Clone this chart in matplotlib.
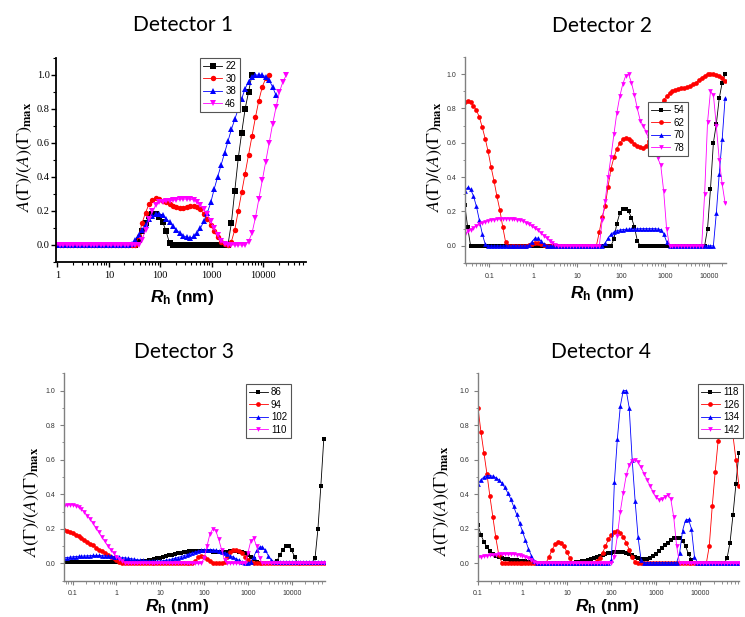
import numpy as np
import matplotlib
matplotlib.use('Agg')
import matplotlib.pyplot as plt
from matplotlib.ticker import LogLocator, FuncFormatter, MultipleLocator, NullFormatter

# figure size in pixels (dpi 100)
W, H = 745, 617
STEP = 1 / 15  # spacing of the Rh grid, in decades

# ---------------- data ----------------
# Detector 1, grid starts at log10(Rh) = -0.02
LAB1 = ['22', '30', '38', '46']
LOG0_1 = -0.02
D1_22 = [0.0] * 24 + [0.03, 0.08, 0.13, 0.17, 0.185, 0.18, 0.165, 0.135, 0.08, 0.01] \
    + [0.0] * 17 + [0.13, 0.32, 0.51, 0.66, 0.80, 0.90, 1.0]
D1_30 = [0.0] * 24 + [0.05, 0.13, 0.19, 0.24, 0.265, 0.275, 0.27, 0.26, 0.25, 0.24,
                      0.23, 0.225, 0.22, 0.22, 0.225, 0.228, 0.23, 0.225, 0.21, 0.18,
                      0.155, 0.12, 0.08, 0.045, 0.02, 0.005, 0.0, 0.02, 0.09, 0.2,
                      0.31, 0.42, 0.53, 0.64, 0.75, 0.85, 0.93, 0.98, 1.0]
D1_38 = [0.0] * 22 + [0.005, 0.03, 0.06, 0.09, 0.12, 0.15, 0.17, 0.18, 0.185, 0.175,
                      0.155, 0.135, 0.11, 0.09, 0.07, 0.055, 0.045, 0.04, 0.05, 0.07,
                      0.10, 0.14, 0.19, 0.25, 0.33, 0.40, 0.47, 0.54, 0.61, 0.68,
                      0.74, 0.80, 0.86, 0.92, 0.96, 0.99, 1.0, 1.0, 1.0, 0.99,
                      0.97, 0.93, 0.88]
D1_46 = [0.0] * 25 + [0.03, 0.09, 0.15, 0.20, 0.235, 0.25, 0.255, 0.26, 0.26, 0.265,
                      0.265, 0.27, 0.27, 0.27, 0.27, 0.265, 0.255, 0.235, 0.21, 0.18,
                      0.14, 0.10, 0.06, 0.025, 0.005, 0.0, 0.0, 0.0, 0.0, 0.0,
                      0.0, 0.02, 0.07, 0.16, 0.27, 0.38, 0.49, 0.60, 0.71, 0.81,
                      0.90, 0.96, 1.0]

# Detector 2, grid starts at log10(Rh) = -1.56
LAB2 = ['54', '62', '70', '78']
LOG0_2 = -1.56
D2_54 = [0.24, 0.11] + [0.0] * 49 + [0.04, 0.13, 0.19, 0.215, 0.215, 0.2, 0.165, 0.11, 0.03] \
    + [0.0] * 23 + [0.1, 0.33, 0.6, 0.71, 0.86, 0.95, 1.0]
D2_62 = [0.84, 0.845, 0.835, 0.815, 0.79, 0.75, 0.69, 0.625, 0.55, 0.46,
         0.38, 0.29, 0.21, 0.11, 0.02] + [0.0] * 7 \
    + [0.005, 0.01, 0.015, 0.015, 0.01, 0.005] + [0.0] * 18 \
    + [0.08, 0.17, 0.23, 0.345, 0.45, 0.515, 0.565, 0.60, 0.62, 0.63,
       0.625, 0.61, 0.595, 0.58, 0.575, 0.57, 0.58, 0.61, 0.66, 0.72,
       0.78, 0.82, 0.85, 0.87, 0.89, 0.90, 0.91, 0.915, 0.92, 0.92,
       0.925, 0.93, 0.94, 0.95, 0.965, 0.98, 0.99, 1.0, 1.0, 1.0,
       0.995, 0.99, 0.98, 0.96]
D2_70 = [0.32, 0.34, 0.33, 0.29, 0.23, 0.15, 0.07, 0.01] + [0.0] * 14 \
    + [0.005, 0.025, 0.045, 0.045, 0.03, 0.01] + [0.0] * 20 \
    + [0.015, 0.045, 0.068, 0.08, 0.088, 0.092, 0.095, 0.096, 0.097, 0.098,
       0.098, 0.099, 0.1, 0.1, 0.1, 0.1, 0.1, 0.1, 0.098, 0.095,
       0.07, 0.025] + [0.0] * 16 + [0.19, 0.42, 0.62, 0.86]
D2_78 = [0.07, 0.085, 0.095, 0.105, 0.115, 0.125, 0.133, 0.14, 0.146, 0.15,
         0.153, 0.155, 0.157, 0.158, 0.158, 0.158, 0.157, 0.155, 0.152, 0.148,
         0.143, 0.135, 0.125, 0.114, 0.102, 0.09, 0.075, 0.06, 0.045, 0.03,
         0.017, 0.007] + [0.0] * 15 \
    + [0.15, 0.26, 0.40, 0.52, 0.65, 0.775, 0.87, 0.94, 0.99, 1.0,
       0.95, 0.88, 0.80, 0.73, 0.70, 0.665, 0.62, 0.58, 0.55, 0.51,
       0.47, 0.32, 0.10] + [0.0] * 12 + [0.30, 0.72, 0.90, 0.88, 0.70, 0.50, 0.36, 0.25]

# Detector 3, grid starts at log10(Rh) = -1.2
LAB3 = ['86', '94', '102', '110']
LOG0_3 = -1.2
D3_86 = [0.01] * 27 + [0.012, 0.015, 0.018, 0.022, 0.026, 0.03, 0.034, 0.038, 0.042, 0.046,
                       0.05, 0.054, 0.058, 0.062, 0.065, 0.068, 0.07, 0.072, 0.073, 0.074,
                       0.074, 0.073, 0.072, 0.07, 0.068, 0.066, 0.065, 0.065, 0.066, 0.068,
                       0.07, 0.07, 0.07, 0.068, 0.065, 0.06, 0.05, 0.04, 0.025, 0.01] \
    + [0.0] * 6 + [0.015, 0.05, 0.08, 0.1, 0.1, 0.075, 0.04] + [0.0] * 6 \
    + [0.03, 0.2, 0.45, 0.72]
D3_94 = [0.195, 0.19, 0.183, 0.175, 0.166, 0.157, 0.148, 0.137, 0.126, 0.115,
         0.104, 0.092, 0.08, 0.07, 0.06, 0.05, 0.04, 0.03, 0.018, 0.01,
         0.004] + [0.0] * 24 + [0.015, 0.035, 0.045, 0.04, 0.028, 0.015, 0.005] \
    + [0.0] * 3 + [0.01, 0.04, 0.065, 0.075, 0.078, 0.072, 0.058, 0.04, 0.022, 0.01,
                   0.003] + [0.0] * 25
D3_102 = [0.033, 0.034, 0.036, 0.038, 0.04, 0.041, 0.042, 0.043, 0.044, 0.045,
          0.046, 0.046, 0.046, 0.045, 0.044, 0.043, 0.042, 0.04, 0.038, 0.036,
          0.034, 0.032, 0.03, 0.027, 0.025, 0.022, 0.02, 0.018, 0.016, 0.015,
          0.014, 0.013, 0.013, 0.014, 0.016, 0.018, 0.021, 0.025, 0.029, 0.034,
          0.039, 0.045, 0.05, 0.056, 0.062, 0.067, 0.072, 0.076, 0.079, 0.08,
          0.08, 0.079, 0.077, 0.073, 0.068, 0.062, 0.054, 0.045, 0.036, 0.027,
          0.018, 0.01, 0.004, 0.0, 0.01, 0.04, 0.075, 0.095, 0.095, 0.075,
          0.045, 0.02] + [0.01] * 19
D3_110 = [0.33, 0.338, 0.34, 0.338, 0.333, 0.325, 0.313, 0.297, 0.277, 0.255,
          0.232, 0.205, 0.18, 0.152, 0.127, 0.103, 0.08, 0.06, 0.04, 0.025,
          0.012, 0.004] + [0.0] * 26 + [0.03, 0.1, 0.17, 0.2, 0.19, 0.14, 0.08, 0.02] \
    + [0.0] * 7 + [0.06, 0.13, 0.145, 0.1, 0.03] + [0.0] * 23

# Detector 4, grid starts at log10(Rh) = -1.0
LAB4 = ['118', '126', '134', '142']
LOG0_4 = -1.0
D4_118 = [0.22, 0.165, 0.125, 0.095, 0.07, 0.053, 0.043, 0.036, 0.031, 0.027,
          0.024, 0.022, 0.02, 0.018, 0.016, 0.014, 0.012, 0.01, 0.008, 0.006,
          0.004, 0.002] + [0.0] * 10 \
    + [0.003, 0.006, 0.009, 0.012, 0.016, 0.02, 0.025, 0.03, 0.036, 0.042,
       0.048, 0.054, 0.059, 0.063, 0.066, 0.068, 0.068, 0.066, 0.063, 0.057,
       0.049, 0.04, 0.031, 0.025, 0.023, 0.026, 0.032, 0.042, 0.055, 0.07,
       0.088, 0.105, 0.12, 0.135, 0.145, 0.148, 0.145, 0.13, 0.1, 0.055,
       0.02] + [0.0] * 11 + [0.03, 0.12, 0.28, 0.46, 0.64]
D4_126 = [0.9, 0.76, 0.64, 0.52, 0.39, 0.27, 0.15, 0.05, 0.005] + [0.0] * 14 \
    + [0.005, 0.04, 0.08, 0.11, 0.123, 0.12, 0.1, 0.065, 0.03, 0.005] + [0.0] * 6 \
    + [0.005, 0.015, 0.03, 0.06, 0.1, 0.14, 0.165, 0.18, 0.185, 0.178,
       0.155, 0.12, 0.08, 0.035, 0.008] + [0.0] * 24 \
    + [0.1, 0.33, 0.53, 0.71, 0.84, 0.9, 0.9, 0.84, 0.74, 0.6, 0.45]
D4_134 = [0.46, 0.485, 0.5, 0.507, 0.508, 0.505, 0.497, 0.484, 0.465, 0.44,
          0.41, 0.375, 0.33, 0.285, 0.235, 0.185, 0.135, 0.085, 0.045, 0.015,
          0.005] + [0.005] * 24 \
    + [0.02, 0.47, 0.72, 0.91, 1.0, 1.0, 0.9, 0.6, 0.36, 0.15, 0.02] + [0.005] * 12 \
    + [0.06, 0.19, 0.25, 0.255, 0.2, 0.04] + [0.005] * 15
D4_142 = [0.035, 0.038, 0.041, 0.044, 0.047, 0.049, 0.051, 0.052, 0.053, 0.054,
          0.054, 0.054, 0.053, 0.051, 0.048, 0.044, 0.038, 0.03, 0.018, 0.007] \
    + [0.0] * 26 + [0.04, 0.16, 0.3, 0.41, 0.51, 0.57, 0.59, 0.6, 0.585, 0.555,
                    0.52, 0.485, 0.45, 0.415, 0.385, 0.368, 0.37, 0.385, 0.395, 0.375,
                    0.27, 0.1] + [0.0] * 21

# ---------------- styling ----------------
COLORS = ['black', '#ff0000', '#0000ff', '#ff00ff']
MARKERS = ['s', 'o', '^', 'v']
YLABEL = r'$A(\mathit{\Gamma})/(A)(\mathit{\Gamma})_{\mathbf{max}}$'
XLABEL = r'$\mathit{R}_{\mathbf{h}}$ (nm)'

plt.rcParams['mathtext.fontset'] = 'custom'
plt.rcParams['mathtext.it'] = 'Liberation Sans:italic:bold'
plt.rcParams['mathtext.bf'] = 'Liberation Sans:bold'
plt.rcParams['mathtext.rm'] = 'Liberation Sans:bold'

# pixel boxes (left, top, right, bottom) and text anchors, in image pixels
panels = [
    dict(box=(56, 58, 306, 262), xlim=(10 ** -0.025, 10 ** 4.829), log0=LOG0_1,
         ys=[D1_22, D1_30, D1_38, D1_46], labels=LAB1, leg=(200, 58),
         title=(183, 30.7), ylab=(25, 157), xlab=(182, 301.7), serif=True,
         name='Detector 1'),
    dict(box=(464.7, 57, 726, 263), xlim=(10 ** -1.56, 10 ** 4.394), log0=LOG0_2,
         ys=[D2_54, D2_62, D2_70, D2_78], labels=LAB2, leg=(648, 102),
         title=(602, 31.7), ylab=(435, 157), xlab=(602, 298.3), serif=False,
         name='Detector 2'),
    dict(box=(64, 373.3, 325, 580.7), xlim=(10 ** -1.198, 10 ** 4.761), log0=LOG0_3,
         ys=[D3_86, D3_94, D3_102, D3_110], labels=LAB3, leg=(245.7, 384),
         title=(184, 358.3), ylab=(32, 502), xlab=(177, 611), serif=False,
         name='Detector 3'),
    dict(box=(478, 373.3, 738.7, 580.7), xlim=(10 ** -1.0, 10 ** 4.862), log0=LOG0_4,
         ys=[D4_118, D4_126, D4_134, D4_142], labels=LAB4, leg=(697.7, 384),
         title=(601.3, 358.3), ylab=(442, 501), xlab=(607, 611), serif=False,
         name='Detector 4'),
]

fig = plt.figure(figsize=(W / 100, H / 100), dpi=100)


def fx(px):
    return px / W


def fy(py):
    return 1 - py / H


for p in panels:
    l, t, r, b = p['box']
    ax = fig.add_axes([fx(l), fy(b), (r - l) / W, (b - t) / H])
    ms = 3.9 if p['serif'] else 3.4
    for y, c, m, lab in zip(p['ys'], COLORS, MARKERS, p['labels']):
        x = 10 ** (p['log0'] + np.arange(len(y)) * STEP)
        ax.plot(x, y, color=c, marker=m, ms=ms, mew=0, lw=0.6, label=lab)
    ax.set_xscale('log')
    ax.set_xlim(*p['xlim'])
    ax.set_ylim(-0.1, 1.1)
    ax.spines['top'].set_visible(False)
    ax.spines['right'].set_visible(False)
    ax.xaxis.set_major_locator(LogLocator(base=10, numticks=20))
    ax.xaxis.set_minor_locator(LogLocator(base=10, subs=np.arange(2, 10), numticks=20))
    ax.xaxis.set_minor_formatter(NullFormatter())
    ax.xaxis.set_major_formatter(FuncFormatter(lambda v, pos: f'{v:g}'))
    ax.yaxis.set_major_locator(MultipleLocator(0.2))
    ax.yaxis.set_minor_locator(MultipleLocator(0.1))
    ax.yaxis.set_major_formatter(FuncFormatter(lambda v, pos: f'{v:.1f}'))
    if p['serif']:
        for s in ('left', 'bottom'):
            ax.spines[s].set_linewidth(1.3)
            ax.spines[s].set_color('black')
        ax.tick_params(which='major', direction='out', length=3.5, width=1.0,
                       labelsize=7.5)
        ax.tick_params(which='minor', direction='out', length=2, width=0.8)
        ax.tick_params(axis='y', which='major', pad=1)
        ax.tick_params(axis='x', which='major', pad=3.2)
        for lb in ax.get_xticklabels() + ax.get_yticklabels():
            lb.set_family('Liberation Serif')
    else:
        for s in ('left', 'bottom'):
            ax.spines[s].set_linewidth(1.0)
            ax.spines[s].set_color('#808080')
        ax.tick_params(which='major', direction='out', length=3, width=0.8,
                       color='#808080', labelsize=5, labelcolor='#333333')
        ax.tick_params(which='minor', direction='out', length=1.8, width=0.6,
                       color='#808080')
        ax.tick_params(axis='y', which='major', pad=3)
        ax.tick_params(axis='x', which='major', pad=4)
        for lb in ax.get_xticklabels() + ax.get_yticklabels():
            lb.set_family('Liberation Sans')
    leg = ax.legend(loc='upper left', bbox_to_anchor=(fx(p['leg'][0]), fy(p['leg'][1])),
                    bbox_transform=fig.transFigure, fancybox=False,
                    framealpha=1, edgecolor='#555555', borderpad=0.35,
                    labelspacing=0.25, handlelength=1.9, handletextpad=0.35,
                    borderaxespad=0, prop={'family': 'Liberation Sans', 'size': 7})
    leg.get_frame().set_linewidth(0.8)

    fig.text(fx(p['title'][0]), fy(p['title'][1]), p['name'], ha='center',
             va='baseline', fontsize=15, family='Lato')
    fig.text(fx(p['ylab'][0]), fy(p['ylab'][1]), YLABEL, rotation=90, ha='center',
             va='center', fontsize=13, math_fontfamily='stix')
    fig.text(fx(p['xlab'][0]), fy(p['xlab'][1]), XLABEL, ha='center', va='baseline',
             fontsize=12.5, fontweight='bold', family='Liberation Sans',
             math_fontfamily='custom')

fig.savefig('out.png', dpi=100)
